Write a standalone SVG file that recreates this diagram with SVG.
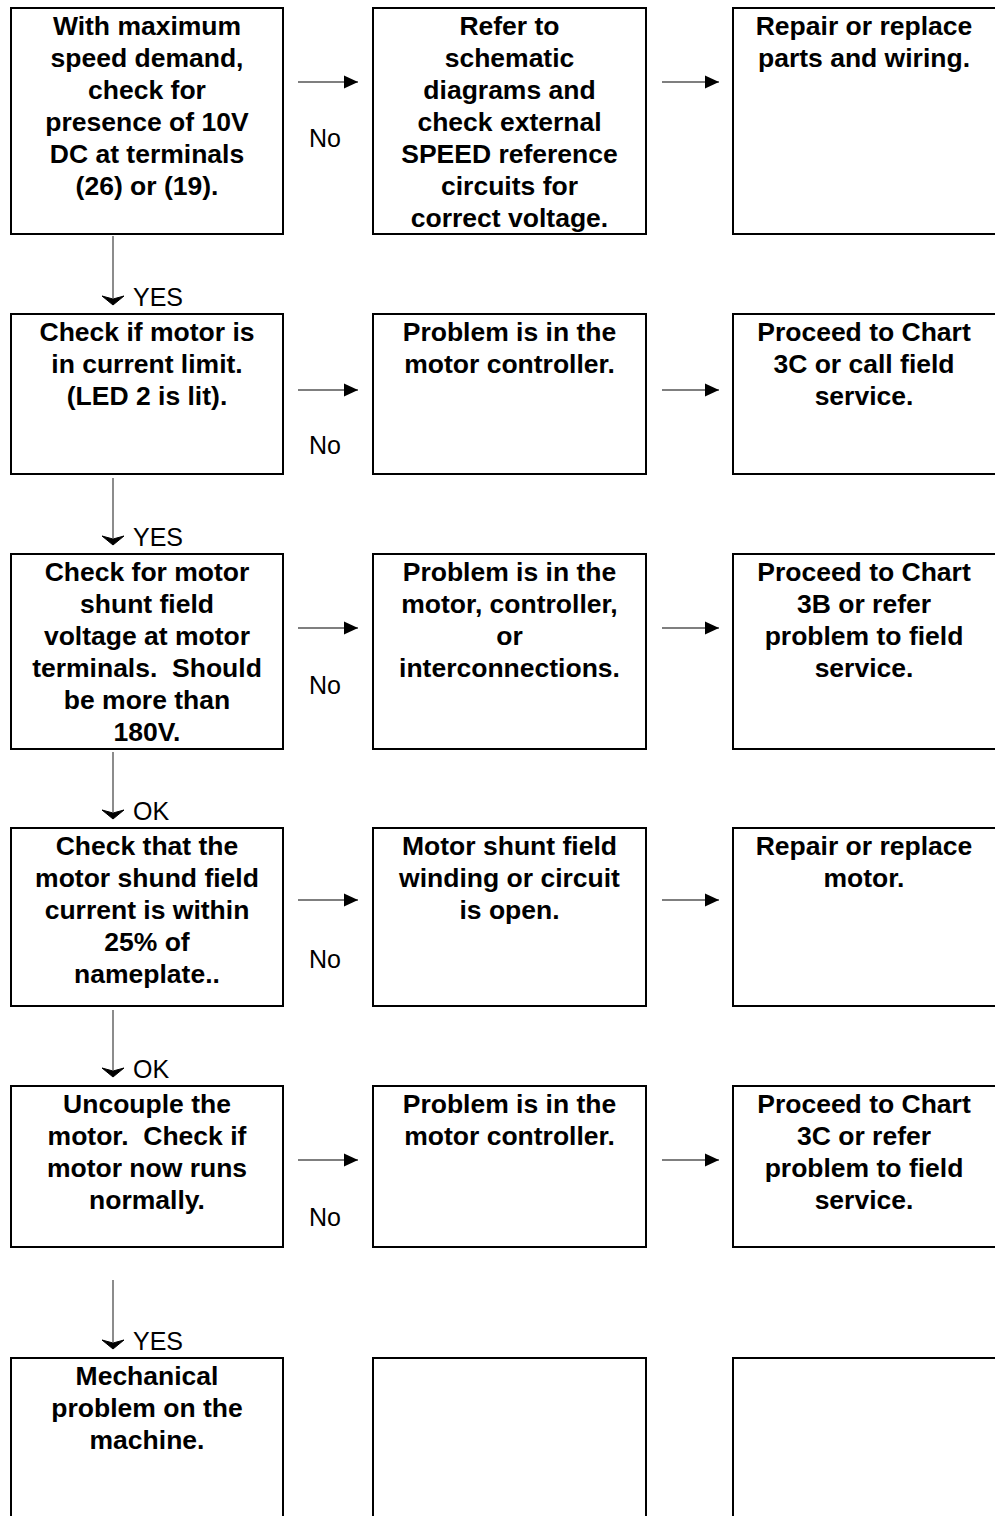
<svg xmlns="http://www.w3.org/2000/svg" width="995" height="1516" viewBox="0 0 995 1516">
<style>
.box{fill:#fff;stroke:#000;stroke-width:2}
.t{font-family:"Liberation Sans",Arial,sans-serif;font-weight:bold;font-size:26.5px;text-anchor:middle;fill:#000;white-space:pre}
.l{font-family:"Liberation Sans",Arial,sans-serif;font-size:25px;fill:#000}
.h{stroke:#000;stroke-width:1.2;fill:none}
.v{stroke:#666;stroke-width:1.5;fill:none}
.vh{fill:#000;stroke:#000;stroke-width:1;stroke-linejoin:round}
</style>
<defs>
<marker id="ah" markerWidth="15" markerHeight="14" refX="14" refY="7" orient="auto" markerUnits="userSpaceOnUse"><path d="M0,0.5 L14,7 L0,13.5 Z" fill="#000"/></marker>
</defs>
<rect width="995" height="1516" fill="#fff"/>
<g id="connectors">
<line class="h" x1="298" y1="82" x2="358" y2="82" marker-end="url(#ah)"/>
<line class="h" x1="662" y1="82" x2="719" y2="82" marker-end="url(#ah)"/>
<line class="h" x1="298" y1="390" x2="358" y2="390" marker-end="url(#ah)"/>
<line class="h" x1="662" y1="390" x2="719" y2="390" marker-end="url(#ah)"/>
<line class="h" x1="298" y1="628" x2="358" y2="628" marker-end="url(#ah)"/>
<line class="h" x1="662" y1="628" x2="719" y2="628" marker-end="url(#ah)"/>
<line class="h" x1="298" y1="900" x2="358" y2="900" marker-end="url(#ah)"/>
<line class="h" x1="662" y1="900" x2="719" y2="900" marker-end="url(#ah)"/>
<line class="h" x1="298" y1="1160" x2="358" y2="1160" marker-end="url(#ah)"/>
<line class="h" x1="662" y1="1160" x2="719" y2="1160" marker-end="url(#ah)"/>
<line class="v" x1="113" y1="236" x2="113" y2="298"/><path class="vh" d="M102,296 L113,305 L124,296 L113,299 Z"/>
<line class="v" x1="113" y1="478" x2="113" y2="538"/><path class="vh" d="M102,536 L113,545 L124,536 L113,539 Z"/>
<line class="v" x1="113" y1="752" x2="113" y2="812"/><path class="vh" d="M102,810 L113,819 L124,810 L113,813 Z"/>
<line class="v" x1="113" y1="1010" x2="113" y2="1070"/><path class="vh" d="M102,1068 L113,1077 L124,1068 L113,1071 Z"/>
<line class="v" x1="113" y1="1280" x2="113" y2="1342"/><path class="vh" d="M102,1340 L113,1349 L124,1340 L113,1343 Z"/>
<text class="l" x="325" y="147" text-anchor="middle">No</text>
<text class="l" x="325" y="454" text-anchor="middle">No</text>
<text class="l" x="325" y="694" text-anchor="middle">No</text>
<text class="l" x="325" y="968" text-anchor="middle">No</text>
<text class="l" x="325" y="1226" text-anchor="middle">No</text>
<text class="l" x="133" y="306">YES</text>
<text class="l" x="133" y="546">YES</text>
<text class="l" x="133" y="820">OK</text>
<text class="l" x="133" y="1078">OK</text>
<text class="l" x="133" y="1350">YES</text>
</g>
<g id="n1a"><rect class="box" x="11" y="8" width="272" height="226"/>
<text class="t"><tspan x="147" y="35">With maximum</tspan><tspan x="147" y="67">speed demand,</tspan><tspan x="147" y="99">check for</tspan><tspan x="147" y="131">presence of 10V</tspan><tspan x="147" y="163">DC at terminals</tspan><tspan x="147" y="195">(26) or (19).</tspan></text></g>
<g id="n1b"><rect class="box" x="373" y="8" width="273" height="226"/>
<text class="t"><tspan x="509.5" y="35">Refer to</tspan><tspan x="509.5" y="67">schematic</tspan><tspan x="509.5" y="99">diagrams and</tspan><tspan x="509.5" y="131">check external</tspan><tspan x="509.5" y="163">SPEED reference</tspan><tspan x="509.5" y="195">circuits for</tspan><tspan x="509.5" y="227">correct voltage.</tspan></text></g>
<g id="n1c"><rect class="box" x="733" y="8" width="300" height="226"/>
<text class="t"><tspan x="864" y="35">Repair or replace</tspan><tspan x="864" y="67">parts and wiring.</tspan></text></g>
<g id="n2a"><rect class="box" x="11" y="314" width="272" height="160"/>
<text class="t"><tspan x="147" y="341">Check if motor is</tspan><tspan x="147" y="373">in current limit.</tspan><tspan x="147" y="405">(LED 2 is lit).</tspan></text></g>
<g id="n2b"><rect class="box" x="373" y="314" width="273" height="160"/>
<text class="t"><tspan x="509.5" y="341">Problem is in the</tspan><tspan x="509.5" y="373">motor controller.</tspan></text></g>
<g id="n2c"><rect class="box" x="733" y="314" width="300" height="160"/>
<text class="t"><tspan x="864" y="341">Proceed to Chart</tspan><tspan x="864" y="373">3C or call field</tspan><tspan x="864" y="405">service.</tspan></text></g>
<g id="n3a"><rect class="box" x="11" y="554" width="272" height="195"/>
<text class="t"><tspan x="147" y="581">Check for motor</tspan><tspan x="147" y="613">shunt field</tspan><tspan x="147" y="645">voltage at motor</tspan><tspan x="147" y="677">terminals.  Should</tspan><tspan x="147" y="709">be more than</tspan><tspan x="147" y="741">180V.</tspan></text></g>
<g id="n3b"><rect class="box" x="373" y="554" width="273" height="195"/>
<text class="t"><tspan x="509.5" y="581">Problem is in the</tspan><tspan x="509.5" y="613">motor, controller,</tspan><tspan x="509.5" y="645">or</tspan><tspan x="509.5" y="677">interconnections.</tspan></text></g>
<g id="n3c"><rect class="box" x="733" y="554" width="300" height="195"/>
<text class="t"><tspan x="864" y="581">Proceed to Chart</tspan><tspan x="864" y="613">3B or refer</tspan><tspan x="864" y="645">problem to field</tspan><tspan x="864" y="677">service.</tspan></text></g>
<g id="n4a"><rect class="box" x="11" y="828" width="272" height="178"/>
<text class="t"><tspan x="147" y="855">Check that the</tspan><tspan x="147" y="887">motor shund field</tspan><tspan x="147" y="919">current is within</tspan><tspan x="147" y="951">25% of</tspan><tspan x="147" y="983">nameplate..</tspan></text></g>
<g id="n4b"><rect class="box" x="373" y="828" width="273" height="178"/>
<text class="t"><tspan x="509.5" y="855">Motor shunt field</tspan><tspan x="509.5" y="887">winding or circuit</tspan><tspan x="509.5" y="919">is open.</tspan></text></g>
<g id="n4c"><rect class="box" x="733" y="828" width="300" height="178"/>
<text class="t"><tspan x="864" y="855">Repair or replace</tspan><tspan x="864" y="887">motor.</tspan></text></g>
<g id="n5a"><rect class="box" x="11" y="1086" width="272" height="161"/>
<text class="t"><tspan x="147" y="1113">Uncouple the</tspan><tspan x="147" y="1145">motor.  Check if</tspan><tspan x="147" y="1177">motor now runs</tspan><tspan x="147" y="1209">normally.</tspan></text></g>
<g id="n5b"><rect class="box" x="373" y="1086" width="273" height="161"/>
<text class="t"><tspan x="509.5" y="1113">Problem is in the</tspan><tspan x="509.5" y="1145">motor controller.</tspan></text></g>
<g id="n5c"><rect class="box" x="733" y="1086" width="300" height="161"/>
<text class="t"><tspan x="864" y="1113">Proceed to Chart</tspan><tspan x="864" y="1145">3C or refer</tspan><tspan x="864" y="1177">problem to field</tspan><tspan x="864" y="1209">service.</tspan></text></g>
<g id="n6a"><rect class="box" x="11" y="1358" width="272" height="200"/>
<text class="t"><tspan x="147" y="1385">Mechanical</tspan><tspan x="147" y="1417">problem on the</tspan><tspan x="147" y="1449">machine.</tspan></text></g>
<g id="n6b"><rect class="box" x="373" y="1358" width="273" height="200"/></g>
<g id="n6c"><rect class="box" x="733" y="1358" width="300" height="200"/></g>
</svg>
